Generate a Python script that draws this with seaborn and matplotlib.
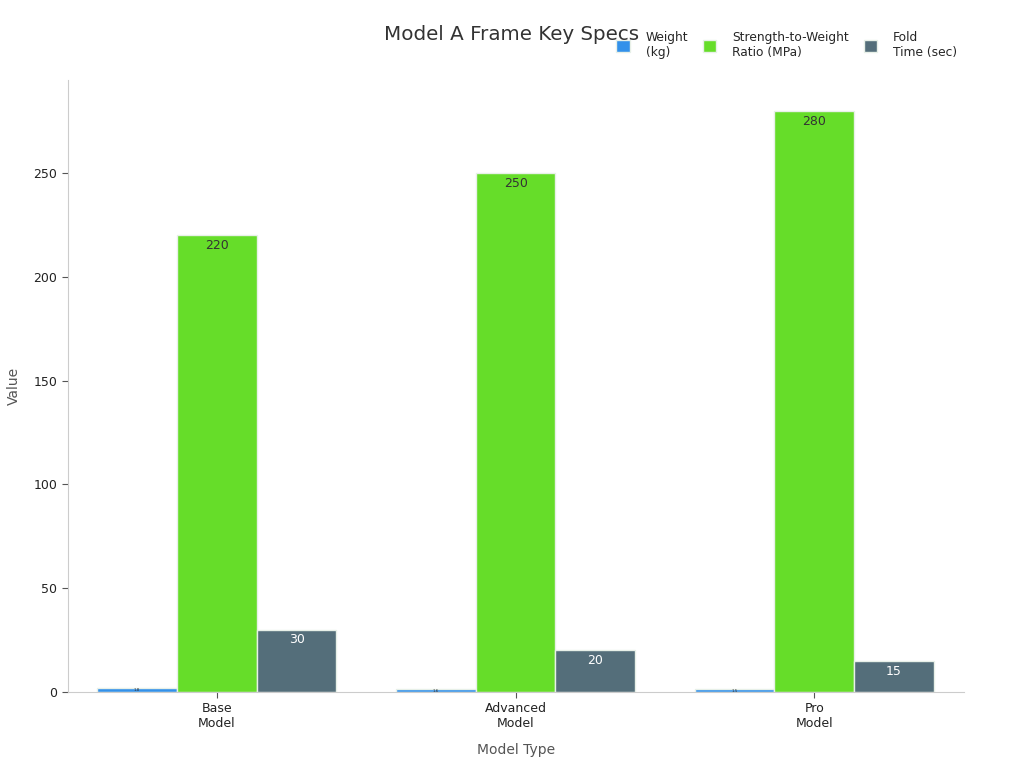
import matplotlib
matplotlib.use("Agg")
import matplotlib.pyplot as plt
import seaborn as sns
import pandas as pd

models = ["Base\nModel", "Advanced\nModel", "Pro\nModel"]
series = ["Weight\n(kg)", "Strength-to-Weight\nRatio (MPa)", "Fold\nTime (sec)"]
weight = [1.8, 1.6, 1.5]
strength = [220, 250, 280]
fold_time = [30, 20, 15]
colors = ["#3391EA", "#66DD29", "#546E7A"]

df = pd.DataFrame({
    "Model Type": models * 3,
    "Metric": [series[0]] * 3 + [series[1]] * 3 + [series[2]] * 3,
    "Value": weight + strength + fold_time,
})

sns.set_theme(style="ticks")
plt.rcParams["font.family"] = ["DejaVu Sans"]

fig = plt.figure(figsize=(10.24, 7.68), dpi=100)
ax = fig.add_axes([0.066, 0.099, 0.875, 0.797])

sns.barplot(data=df, x="Model Type", y="Value", hue="Metric", palette=colors,
            width=0.8, edgecolor="#e8f0e8", linewidth=1, ax=ax, saturation=1)

text_colors = ["#333333", "#333333", "white"]
sizes = [3, 9, 9]
pads = [-3, -12, -12]
for cont, tc, fs, pd_ in zip(ax.containers, text_colors, sizes, pads):
    labels = [f"{v:g}" for v in cont.datavalues]
    ax.bar_label(cont, labels=labels, label_type="edge", padding=pd_,
                 color=tc, fontsize=fs)

ax.set_xlim(-0.5, 2.5)
ax.set_ylim(0, 295)
ax.set_yticks([0, 50, 100, 150, 200, 250])
ax.tick_params(axis="both", labelsize=9, labelcolor="#222222", length=4,
               width=0.8, color="#555555", bottom=True, left=True)
for s in ["top", "right"]:
    ax.spines[s].set_visible(False)
for s in ["left", "bottom"]:
    ax.spines[s].set_color("#cccccc")
    ax.spines[s].set_linewidth(0.8)
ax.set_xlabel("Model Type", fontsize=10, color="#555555", labelpad=9)
ax.set_ylabel("Value", fontsize=10, color="#555555", labelpad=9)

fig.suptitle("Model A Frame Key Specs", fontsize=14.3, color="#333333", x=0.5, y=0.968)
ax.legend(loc="upper right", bbox_to_anchor=(1.005, 1.097), ncol=3, frameon=False,
          fontsize=8.8, handlelength=1.1, handleheight=1.1, handletextpad=1.3,
          columnspacing=1.2, title=None)

fig.savefig("out.png", dpi=100)
